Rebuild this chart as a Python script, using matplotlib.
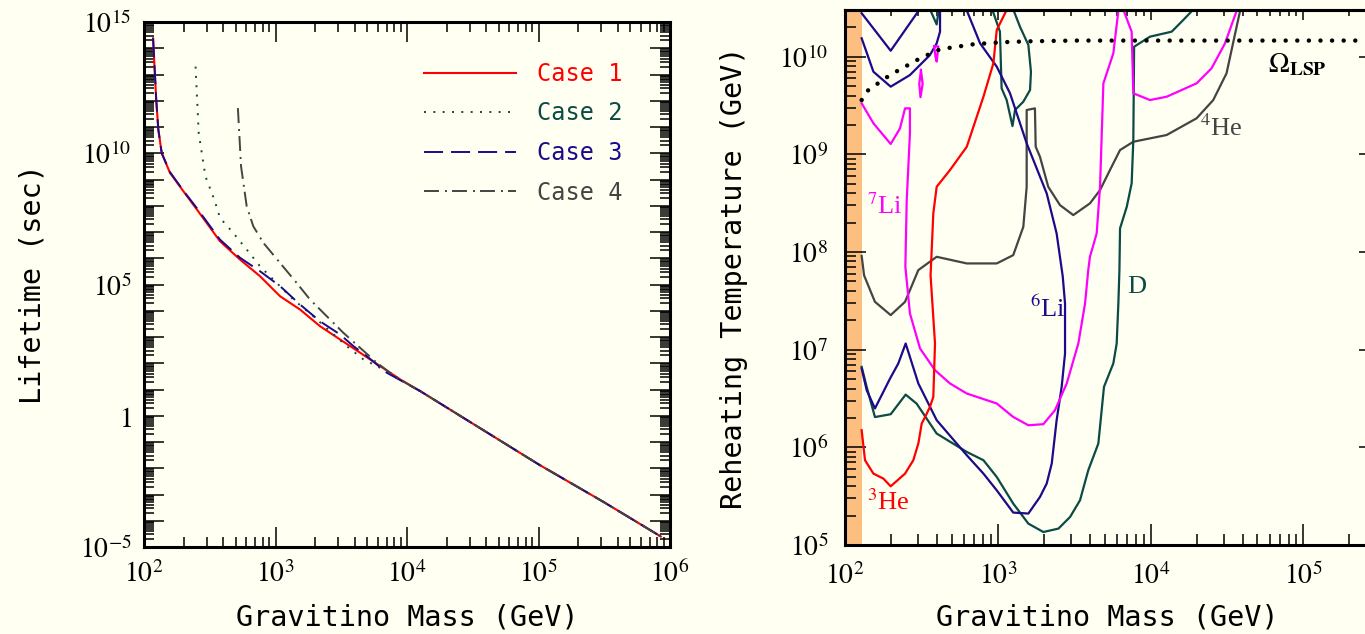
import numpy as np
import matplotlib
matplotlib.use("Agg")
import matplotlib.pyplot as plt
from matplotlib.ticker import LogLocator, FixedLocator, NullFormatter, FuncFormatter

plt.rcParams['mathtext.fontset'] = 'stix'
plt.rcParams['font.family'] = ['DejaVu Sans Mono']

BG = "#fffff2"
RED = "#ff0000"
TEAL = "#0b4a45"
NAVY = "#1c0a8c"
GRAY = "#444444"
MAGENTA = "#ff00ff"

# ---- left panel: lifetime vs gravitino mass (log10 values) ----
tail_logm = [4.1, 4.5, 5.0, 5.5, 5.93]
tail_logt = [0.94, -0.3, -1.85, -3.3, -4.6]

case1_logm = [2.069, 2.093, 2.109, 2.135, 2.198, 2.3, 2.399, 2.578, 2.73, 2.882, 3.034, 3.186, 3.338, 3.49,
              3.643, 3.795, 3.947]
case1_logt = [14.38, 12.03, 10.9, 10.0, 9.25, 8.55, 7.88, 6.647, 5.951, 5.316, 4.555, 4.049, 3.414, 2.909,
              2.403, 1.894, 1.388]

case2_logm = [2.392, 2.416, 2.467, 2.535, 2.578, 2.679, 2.781, 2.882, 3.009, 3.135, 3.287, 3.414, 3.541,
              3.668, 3.82, 3.947]
case2_logt = [13.30, 10.77, 9.12, 8.23, 7.535, 6.965, 6.33, 5.696, 5.06, 4.43, 3.795, 3.225, 2.654, 2.148,
              1.768, 1.36]

case3_logm = [2.069, 2.093, 2.109, 2.135, 2.198, 2.3, 2.4, 2.578, 2.73, 2.882, 3.034, 3.186, 3.338, 3.49,
              3.592, 3.694, 3.846, 3.947]
case3_logt = [14.38, 12.03, 10.9, 10.0, 9.28, 8.57, 7.92, 6.71, 6.02, 5.506, 4.94, 4.24, 3.6, 3.1, 2.654,
              2.27, 1.64, 1.36]

case4_logm = [2.714, 2.738, 2.781, 2.831, 2.908, 3.034, 3.161, 3.262, 3.389, 3.516, 3.643, 3.77, 3.871, 3.99]
case4_logt = [11.72, 9.50, 7.98, 7.22, 6.585, 5.825, 5.06, 4.43, 3.795, 3.16, 2.59, 2.02, 1.64, 1.25]

# ---- right panel: reheating temperature bounds (log10 values) ----
omega_logm = [2.109, 2.153, 2.295, 2.491, 2.622, 2.84, 3.014, 3.189, 3.5, 4.0, 4.5, 5.0, 5.45]
omega_logT = [9.556, 9.659, 9.812, 9.983, 10.076, 10.127, 10.147, 10.157, 10.165, 10.165, 10.165, 10.165, 10.165]

he4_logm = [2.109, 2.125, 2.196, 2.299, 2.393, 2.48, 2.6, 2.797, 2.993, 3.101, 3.167, 3.189, 3.189, 3.243,
            3.248, 3.276, 3.33, 3.407, 3.494, 3.603, 3.669, 3.734, 3.8, 3.887, 4.105, 4.301, 4.41, 4.497, 4.563, 4.59]
he4_logT = [7.96, 7.76, 7.49, 7.354, 7.49, 7.815, 7.951, 7.883, 7.883, 7.968, 8.258, 8.668, 9.454, 9.471,
            9.078, 8.975, 8.668, 8.48, 8.378, 8.498, 8.634, 8.839, 9.044, 9.129, 9.198, 9.369, 9.556, 9.83, 10.307, 10.5]

d_low_logm = [2.109, 2.142, 2.196, 2.299, 2.397, 2.469, 2.6, 2.797, 2.906, 2.993, 3.101, 3.2, 3.298, 3.397,
              3.473, 3.538, 3.592, 3.658, 3.695, 3.756, 3.778, 3.789, 3.796, 3.8, 3.844, 3.876, 3.887, 3.892,
              3.996, 4.138, 4.214, 4.29]
d_low_logT = [6.824, 6.619, 6.31, 6.339, 6.54, 6.447, 6.141, 5.953, 5.868, 5.697, 5.424, 5.219, 5.133, 5.168,
              5.287, 5.458, 5.765, 6.039, 6.62, 6.859, 7.063, 7.473, 7.815, 8.242, 8.463, 8.703, 9.147, 10.102,
              10.205, 10.256, 10.376, 10.5]
d_tongue_logm = [2.96, 3.014, 3.025, 3.058, 3.096, 3.113, 3.167, 3.211, 3.217, 3.2, 3.145, 3.097]
d_tongue_logT = [10.5, 10.256, 9.676, 9.556, 9.29, 9.454, 9.539, 9.659, 9.846, 10.12, 10.307, 10.5]
d_notch_logm = [2.552, 2.6, 2.615]
d_notch_logT = [10.5, 10.33, 10.5]

li6_v_logm = [2.109, 2.299, 2.495]
li6_v_logT = [10.445, 10.061, 10.5]
li6_up_logm = [2.109, 2.186, 2.299, 2.425, 2.556, 2.6, 2.622, 2.622]
li6_up_logT = [10.188, 9.846, 9.693, 9.812, 10.017, 10.137, 10.256, 10.5]
li6_logm = [2.109, 2.142, 2.196, 2.295, 2.349, 2.397, 2.48, 2.6, 2.797, 2.906, 2.993, 3.101, 3.2, 3.276,
            3.32, 3.353, 3.385, 3.418, 3.44, 3.44, 3.425, 3.385, 3.32, 3.189, 3.08, 2.993, 2.884, 2.79]
li6_logT = [6.807, 6.585, 6.398, 6.705, 6.859, 7.063, 6.654, 6.278, 5.919, 5.731, 5.56, 5.332, 5.322, 5.492,
            5.629, 5.834, 6.278, 6.619, 6.961, 7.473, 7.75, 8.19, 8.6, 9.113, 9.625, 9.898, 10.137, 10.5]

li7_logm = [2.109, 2.186, 2.299, 2.36, 2.393, 2.425, 2.425, 2.404, 2.395, 2.425, 2.491, 2.589, 2.687, 2.797,
            2.993, 3.101, 3.2, 3.298, 3.374, 3.451, 3.527, 3.571, 3.592, 3.603, 3.647, 3.669, 3.691, 3.756,
            3.795, 3.805, 3.876, 3.887, 3.996, 4.105, 4.301, 4.399, 4.487, 4.57]
li7_logT = [9.523, 9.318, 9.106, 9.266, 9.471, 9.471, 9.215, 8.532, 7.85, 7.371, 7.012, 6.79, 6.654, 6.551,
            6.449, 6.311, 6.226, 6.237, 6.38, 6.654, 7.063, 7.473, 7.815, 7.951, 8.19, 8.668, 9.727, 10.034,
            10.55, 10.55, 10.256, 9.625, 9.556, 9.59, 9.727, 9.881, 10.137, 10.5]
li7_loop1_logm = [2.497, 2.486, 2.494, 2.508, 2.497]
li7_loop1_logT = [9.864, 9.72, 9.585, 9.72, 9.864]
li7_loop2_logm = [2.584, 2.592, 2.6, 2.611, 2.584]
li7_loop2_logT = [10.105, 10.0, 9.95, 10.105, 10.105]

he3_logm = [2.109, 2.131, 2.186, 2.251, 2.299, 2.393, 2.447, 2.48, 2.502, 2.524, 2.556, 2.578, 2.589, 2.56,
            2.578, 2.6, 2.687, 2.797, 2.906, 2.971, 2.993, 3.065]
he3_logT = [6.175, 5.868, 5.731, 5.68, 5.601, 5.731, 5.868, 6.039, 6.244, 6.31, 6.414, 6.517, 7.063, 7.76,
            8.396, 8.668, 8.839, 9.078, 9.59, 9.932, 10.273, 10.5]

band_logm = 2.109


def p(v):
    return 10.0 ** np.asarray(v)


def minor_log(lo, hi):
    return [m * 10.0 ** e for e in range(lo, hi) for m in range(2, 10)]


fig = plt.figure(figsize=(13.65, 6.34), dpi=100, facecolor=BG)

# ================= left panel =================
ax1 = fig.add_axes([144 / 1365, 1 - 547 / 634, 526 / 1365, 525 / 634], facecolor=BG)
ax1.set_xscale("log")
ax1.set_yscale("log")

ax1.plot(p(case1_logm + tail_logm), p(case1_logt + tail_logt), color=RED, lw=1.5, label="Case 1")
ax1.plot(p(case2_logm + tail_logm), p(case2_logt + tail_logt), color=TEAL, lw=1.4,
         dashes=(1, 3.8), label="Case 2")
ax1.plot(p(case3_logm + tail_logm), p(case3_logt + tail_logt), color=NAVY, lw=1.4,
         dashes=(9.8, 4.1), label="Case 3")
ax1.plot(p(case4_logm + tail_logm), p(case4_logt + tail_logt), color=GRAY, lw=1.4,
         dashes=(7.7, 3.1, 1, 2.6), label="Case 4")

ax1.set_xlim(1e2, 1e6)
ax1.set_ylim(1e-5, 1e15)


def life_fmt(v, pos):
    e = int(round(np.log10(v)))
    if e % 5:
        return ""
    if e == 0:
        return "$1$"
    return r"$10^{%d}$" % e


ax1.yaxis.set_major_locator(FixedLocator([10.0 ** e for e in range(-5, 16)]))
ax1.yaxis.set_minor_locator(FixedLocator(minor_log(-5, 15)))
ax1.yaxis.set_major_formatter(FuncFormatter(life_fmt))
ax1.yaxis.set_minor_formatter(NullFormatter())
ax1.xaxis.set_major_locator(FixedLocator([10.0 ** e for e in range(2, 7)]))
ax1.xaxis.set_minor_locator(FixedLocator(minor_log(2, 6)))
ax1.xaxis.set_major_formatter(FuncFormatter(lambda v, pos: r"$10^{%d}$" % round(np.log10(v))))
ax1.xaxis.set_minor_formatter(NullFormatter())
ax1.tick_params(which="both", direction="in", top=True, right=True, width=1.1, color="black",
                labelsize=20)
ax1.tick_params(which="major", length=14.5, pad=9)
ax1.tick_params(which="minor", length=7)
for s in ax1.spines.values():
    s.set_linewidth(2.2)

ax1.set_xlabel("Gravitino Mass (GeV)", fontsize=20.5)
ax1.set_ylabel("Lifetime (sec)", fontsize=20.5)
ax1.xaxis.set_label_coords(0.5, -0.108)
ax1.yaxis.set_label_coords(-0.185, 0.5)

leg = ax1.legend(loc="upper left", bbox_to_anchor=(0.532, 0.924), frameon=False, fontsize=17,
                 handlelength=3.9, handletextpad=0.88, labelspacing=0.66, borderaxespad=0, borderpad=0)
for txt, ln in zip(leg.get_texts(), leg.get_lines()):
    txt.set_color(ln.get_color())

# ================= right panel =================
ax2 = fig.add_axes([845 / 1365, 1 - 545 / 634, 524 / 1365, 535 / 634], facecolor=BG)
ax2.set_xscale("log")
ax2.set_yscale("log")
ax2.set_xlim(1e2, 10 ** (2 + 524 / 152.8))
ax2.set_ylim(1e5, 10 ** 10.478)

ax2.axvspan(1e2, p(band_logm), color="#fcbf80", lw=0, zorder=0)

ax2.plot(p(omega_logm), p(omega_logT), color="black", lw=3.2, dashes=(0.01, 2.6),
         dash_capstyle="round", zorder=3)
ax2.plot(p(he4_logm), p(he4_logT), color=GRAY, lw=1.6)
ax2.plot(p(d_low_logm), p(d_low_logT), color=TEAL, lw=1.6)
ax2.plot(p(d_tongue_logm), p(d_tongue_logT), color=TEAL, lw=1.6)
ax2.plot(p(d_notch_logm), p(d_notch_logT), color=TEAL, lw=1.6)
ax2.plot(p(li6_v_logm), p(li6_v_logT), color=NAVY, lw=1.6)
ax2.plot(p(li6_up_logm), p(li6_up_logT), color=NAVY, lw=1.6)
ax2.plot(p(li6_logm), p(li6_logT), color=NAVY, lw=1.6)
ax2.plot(p(li7_logm), p(li7_logT), color=MAGENTA, lw=1.6)
ax2.plot(p(li7_loop1_logm), p(li7_loop1_logT), color=MAGENTA, lw=1.6)
ax2.plot(p(li7_loop2_logm), p(li7_loop2_logT), color=MAGENTA, lw=1.6)
ax2.plot(p(he3_logm), p(he3_logT), color=RED, lw=1.6)

lab = dict(fontsize=19, family="Liberation Serif", va="center", ha="left")
ax2.text(p(2.144), p(8.47), r"$^{7}$Li", color=MAGENTA, **lab)
ax2.text(p(2.144), p(5.44), r"$^{3}$He", color=RED, **lab)
ax2.text(p(3.211), p(7.415), r"$^{6}$Li", color=NAVY, **lab)
ax2.text(p(3.845), p(7.64), "D", color=TEAL, **lab)
ax2.text(p(4.323), p(9.275), r"$^{4}$He", color=GRAY, **lab)
ax2.text(p(4.768), p(9.93), r"$\Omega_{\mathbf{LSP}}$", color="black", fontsize=20, va="center", ha="left")

ax2.xaxis.set_major_locator(FixedLocator([10.0 ** e for e in range(2, 7)]))
ax2.xaxis.set_minor_locator(FixedLocator(minor_log(2, 6)))
ax2.xaxis.set_major_formatter(FuncFormatter(lambda v, pos: r"$10^{%d}$" % round(np.log10(v))))
ax2.xaxis.set_minor_formatter(NullFormatter())
ax2.yaxis.set_major_locator(FixedLocator([10.0 ** e for e in range(5, 11)]))
ax2.yaxis.set_minor_locator(FixedLocator(minor_log(5, 11)))
ax2.yaxis.set_major_formatter(FuncFormatter(lambda v, pos: r"$10^{%d}$" % round(np.log10(v))))
ax2.yaxis.set_minor_formatter(NullFormatter())
ax2.tick_params(which="both", direction="in", top=False, right=False, width=1.1, labelsize=20)
ax2.tick_params(which="major", length=15, pad=12)
ax2.tick_params(which="minor", length=8)
for s in ax2.spines.values():
    s.set_linewidth(2.2)

top2 = ax2.secondary_xaxis("top")
top2.xaxis.set_major_locator(FixedLocator([10.0 ** e for e in range(2, 7)]))
top2.xaxis.set_minor_locator(FixedLocator(minor_log(2, 6)))
top2.tick_params(which="both", direction="in", width=1.1, labeltop=False)
top2.tick_params(which="major", length=7.5)
top2.tick_params(which="minor", length=4.5)
top2.spines["top"].set_linewidth(2.2)
right2 = ax2.secondary_yaxis("right")
right2.yaxis.set_major_locator(FixedLocator([10.0 ** e for e in range(5, 11)]))
right2.yaxis.set_minor_locator(FixedLocator([]))
right2.tick_params(which="both", direction="in", width=1.1, labelright=False)
right2.tick_params(which="major", length=7.5)

ax2.set_xlabel("Gravitino Mass (GeV)", fontsize=20.5)
ax2.set_ylabel("Reheating Temperature (GeV)", fontsize=20.5)
ax2.xaxis.set_label_coords(0.5, -0.11)
ax2.yaxis.set_label_coords(-0.185, 0.5)

fig.savefig("out.png", dpi=100, facecolor=BG)
